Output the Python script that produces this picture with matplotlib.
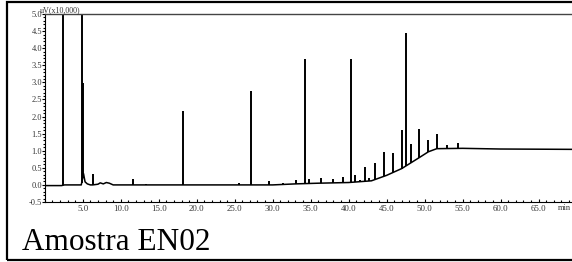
import numpy as np
import matplotlib
matplotlib.use("Agg")
import matplotlib.pyplot as plt
from matplotlib.patches import Rectangle
from matplotlib.ticker import MultipleLocator, FormatStrFormatter

plt.rcParams['font.family'] = ['Liberation Serif', 'DejaVu Serif']

# linha de base do cromatograma (min, uV x10.000)
bl_time = [0.0, 2.2, 2.6, 4.8, 5.1, 5.3, 5.6, 6.0, 6.3, 7.0, 7.3, 7.7, 8.1, 8.5, 9.0,
           30.0, 33.0, 36.0, 40.0, 43.0, 45.0, 47.0, 49.3, 50.5, 51.6, 55.0, 60.0, 69.4]
bl_signal = [-0.02, -0.02, 0.0, 0.0, 0.33, 0.09, 0.03, 0.0, 0.0, 0.02, 0.06, 0.03, 0.07, 0.05, 0.0,
             0.0, 0.03, 0.05, 0.07, 0.12, 0.28, 0.48, 0.80, 0.97, 1.06, 1.07, 1.05, 1.04]

# picos (tempo de retenção, topo)
pk_time = [2.4, 4.86, 4.99, 6.35, 11.6, 13.3, 18.2, 25.6, 27.1, 29.5, 31.3, 33.05, 34.2, 34.8,
           36.4, 37.9, 39.3, 40.25, 40.8, 41.5, 42.1, 42.7, 43.45, 44.7, 45.9, 47.0, 47.6,
           48.2, 49.3, 50.4, 51.6, 52.9, 54.4, 56.1, 58.2]
pk_top = [6.0, 6.0, 2.97, 0.32, 0.17, 0.03, 2.17, 0.07, 2.76, 0.12, 0.05, 0.13, 3.69, 0.18,
          0.20, 0.16, 0.22, 3.67, 0.29, 0.14, 0.53, 0.20, 0.65, 0.96, 0.94, 1.60, 4.43,
          1.20, 1.64, 1.31, 1.49, 1.16, 1.23, 1.09, 1.07]

fig = plt.figure(figsize=(5.72, 2.62), dpi=100)
ax = fig.add_axes([0.0783, 0.229, 1 - 0.0783, 0.7176])

ax.plot(bl_time, bl_signal, color='black', lw=1.1)
pk_base = np.interp(pk_time, bl_time, bl_signal)
ax.vlines(pk_time, pk_base, pk_top, color='black', lw=1.4)

ax.set_xlim(0, 69.4)
ax.set_ylim(-0.5, 5.0)
ax.xaxis.set_minor_locator(MultipleLocator(1))
ax.yaxis.set_major_locator(MultipleLocator(0.5))
ax.yaxis.set_minor_locator(MultipleLocator(0.1))
ax.set_xticks(np.arange(5, 70, 5))
ax.xaxis.set_major_formatter(FormatStrFormatter('%.1f'))
ax.yaxis.set_major_formatter(FormatStrFormatter('%.1f'))
ax.tick_params(axis='x', which='major', direction='in', length=2.5, width=0.8,
               labelsize=6.3, pad=2, labelcolor='#333333')
ax.tick_params(axis='x', which='minor', direction='in', length=1.5, width=0.8)
ax.tick_params(axis='y', which='major', direction='out', length=2, width=0.8,
               labelsize=6.0, pad=0, labelcolor='#333333')
ax.tick_params(axis='y', which='minor', direction='out', length=1.2, width=0.8)
ax.spines['right'].set_visible(False)
for s in ['left', 'bottom']:
    ax.spines[s].set_linewidth(0.8)
ax.spines['top'].set_linewidth(1.0)
ax.spines['top'].set_color('#444444')

fig.text(40 / 572, 1 - 10 / 262, 'uV(x10,000)', fontsize=5.8, color='#333333',
         ha='left', va='center')
fig.text(558 / 572, 1 - 207.5 / 262, 'min', fontsize=6.0,
         color='#333333', ha='left', va='center')

fig.text(21.5 / 572, 1 - 250 / 262, 'Amostra EN02', fontsize=22.5, color='black',
         ha='left', va='baseline')

fig.patches.append(Rectangle((6.5 / 572, 2.5 / 262), 1.2, 1 - 4 / 262, transform=fig.transFigure,
                             fill=False, edgecolor='black', lw=1.6, clip_on=False))

fig.savefig('out.png', dpi=100)
